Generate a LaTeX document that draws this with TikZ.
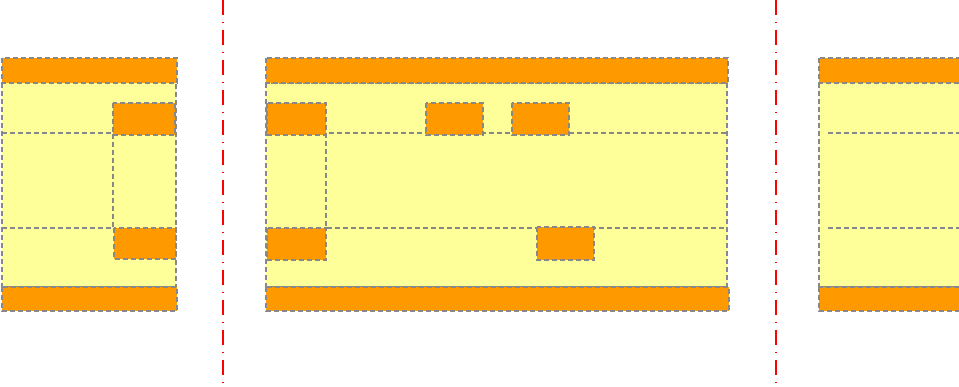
\documentclass[tikz,border=0pt]{standalone}
\usepackage{tikz}
\usepackage{xcolor}
\definecolor{PadOrange}{HTML}{FF9900}
\definecolor{BodyYellow}{HTML}{FFFF99}
\definecolor{EdgeGray}{HTML}{888888}
\usetikzlibrary{backgrounds}

\tikzset{
    body/.style={fill=BodyYellow, draw=EdgeGray, line width=1.5pt, dash pattern=on 5pt off 3pt},
    pad/.style={fill=PadOrange, draw=EdgeGray, line width=1.5pt, dash pattern=on 5pt off 3pt},
    track/.style={draw=EdgeGray, line width=1.3pt, dash pattern=on 5pt off 3pt},
    cutline/.style={draw=red, line width=1.3pt, dash pattern=on 15pt off 7pt on 1.5pt off 6.5pt}
}

\begin{document}
\begin{tikzpicture}[x=1pt, y=-1pt]
    \clip (0,0) rectangle (959,387);

    % Left cell
    \begin{scope}[shift={(2,58)}]
        \draw[body] (0,25) rectangle (174,229); % Body
        \draw[track] (0,75) -- (111,75) -- (111,170) -- (0,170);
        \draw[pad] (111,45) rectangle (173,77);
        \draw[pad] (112,170) rectangle (174,201);
        \draw[pad] (0,0) rectangle (175,25); % Top rail
        \draw[pad] (0,229) rectangle (175,253); % Bottom rail
    \end{scope}

    % Middle cell
    \begin{scope}[shift={(266,58)}]
        \draw[body] (0,25) rectangle (461,229); % Body
        \draw[track] (460,75) -- (60,75) -- (60,170) -- (460,170);
        \draw[pad] (1,45) rectangle (60,77);
        \draw[pad] (160,45) rectangle (217,77);
        \draw[pad] (246,45) rectangle (303,77);
        \draw[pad] (1,170) rectangle (60,202);
        \draw[pad] (271,169) rectangle (328,202);
        \draw[pad] (0,0) rectangle (462,25); % Top rail
        \draw[pad] (0,229) rectangle (463,253); % Bottom rail
    \end{scope}

    % Right cell
    \begin{scope}[shift={(819,58)}]
        \draw[body] (0,25) rectangle (170,229); % Body
        \draw[track] (9,75) -- (170,75);
        \draw[track] (9,170) -- (170,170);
        \draw[pad] (0,0) rectangle (170,25); % Top rail
        \draw[pad] (0,229) rectangle (170,253); % Bottom rail
    \end{scope}

    % Cut lines
    \draw[cutline] (223,0) -- (223,387);
    \draw[cutline] (776,0) -- (776,387);
\end{tikzpicture}
\end{document}
